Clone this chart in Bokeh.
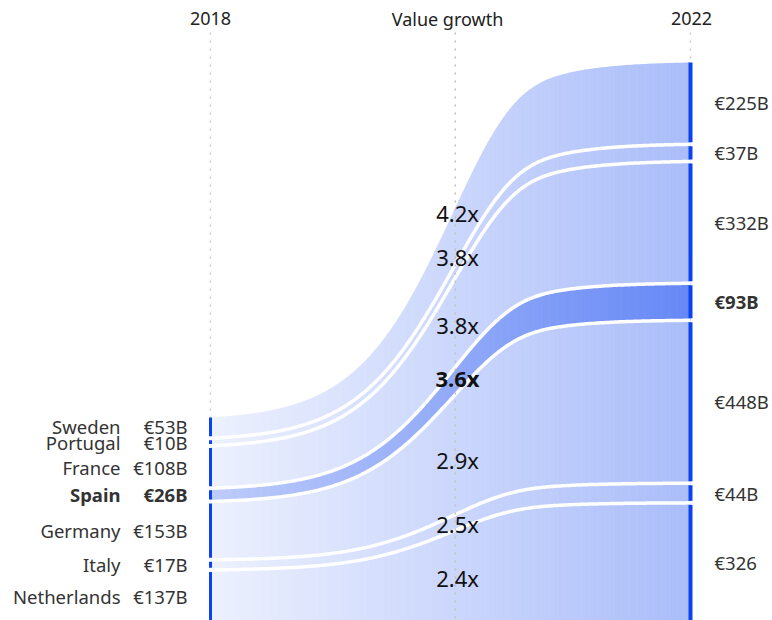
import numpy as np
from bokeh.plotting import figure
from bokeh.models import Range1d, ColumnDataSource
from bokeh.core.properties import value
from bokeh.embed import file_html
from bokeh.resources import INLINE

# ---------------- data ----------------
countries = ["Sweden", "Portugal", "France", "Spain", "Germany", "Italy", "Netherlands"]
values_2018 = [53, 10, 108, 26, 153, 17, 137]
values_2022 = [225, 37, 332, 93, 448, 44, 326]
labels_2018 = ["€53B", "€10B", "€108B", "€26B", "€153B", "€17B", "€137B"]
labels_2022 = ["€225B", "€37B", "€332B", "€93B", "€448B", "€44B", "€326"]
growth_labels = ["4.2x", "3.8x", "3.8x", "3.6x", "2.9x", "2.5x", "2.4x"]
highlight = "Spain"
column_titles = ["2018", "Value growth", "2022"]

# ---------------- layout / style ----------------
W, H = 772, 620
LEFT_PX = 210             # pixel x of the 2018 stack
PX_PER_S = 480.0          # px between the two stacks
PX_PER_B = 0.35465        # px per billion euro
GAP = 11.4                # gap between stacked bands (in value units)
FONT = value("Noto Sans")
BLUE = (12, 66, 240)
BAR_COLOR = "#0b43f0"
MID_S = 0.51
growth_nudge_px = [-18, -10, 6, 0, 7, 3, 2]   # label placement tweaks (px)


def sx(px):
    return (px - LEFT_PX) / PX_PER_S


def vy(py):
    return (H - py) / PX_PER_B


x_start, x_end = sx(0), sx(W)
y_start, y_end = 0.0, vy(0)


def tint(alpha):
    return "#%02x%02x%02x" % tuple(int(round(255 - alpha * (255 - c))) for c in BLUE)


def ease(s):
    s = np.asarray(s, dtype=float)
    k, c = 10.0, 0.475
    L = lambda u: 1.0 / (1.0 + np.exp(-k * (u - c)))
    logi = (L(s) - L(0.0)) / (L(1.0) - L(0.0))
    km, m = 9.0, 0.52
    G = lambda u: 1.0 - np.exp(-np.exp(km * (u - m)))
    gom = (G(s) - G(0.0)) / (G(1.0) - G(0.0))
    return 0.5 * logi + 0.5 * gom


def stack(vals):
    bottoms, tops = {}, {}
    y = 0.0
    for c, v in reversed(list(zip(countries, vals))):
        bottoms[c] = y
        tops[c] = y + v
        y += v + GAP
    return bottoms, tops


b18, t18 = stack(values_2018)
b22, t22 = stack(values_2022)


def curve(yl, yr, s):
    return yl + (yr - yl) * ease(s)


p = figure(width=W, height=H, x_range=Range1d(x_start, x_end),
           y_range=Range1d(y_start, y_end), output_backend="svg",
           toolbar_location=None, min_border=0,
           x_axis_location=None, y_axis_location=None)
p.grid.visible = False
p.outline_line_color = None
p.background_fill_color = "white"
p.border_fill_color = "white"

# dotted guide lines
dot_top = vy(32)
p.segment(x0=[0, 1], y0=[dot_top, dot_top],
          x1=[0, 1], y1=[t18[countries[0]], t22[countries[0]]],
          line_color="#c8c8c8", line_width=1.5, line_dash="2 6")

# gradient envelope of all bands
N = 180
edges = np.linspace(0, 1, N + 1)
eps = 0.6 / PX_PER_S
bottom_val = y_start - 50
top_l, top_r = t18[countries[0]], t22[countries[0]]
xs, ys, cols = [], [], []
for i in range(N):
    s0, s1 = edges[i], min(edges[i + 1] + eps, 1.0)
    xs.append([s0, s0, s1, s1])
    ys.append([bottom_val, float(curve(top_l, top_r, s0)), float(curve(top_l, top_r, s1)), bottom_val])
    sm = 0.5 * (s0 + s1)
    cols.append(tint(0.075 + 0.275 * sm))
p.patches(xs=xs, ys=ys, fill_color=cols, line_color=None)

# highlighted band (between gap centres)
hb_l = b18[highlight] - GAP / 2
ht_l = t18[highlight] + GAP / 2
hb_r = b22[highlight] - GAP / 2
ht_r = t22[highlight] + GAP / 2
xs, ys, cols = [], [], []
for i in range(N):
    s0, s1 = edges[i], min(edges[i + 1] + eps, 1.0)
    xs.append([s0, s0, s1, s1])
    ys.append([float(curve(hb_l, hb_r, s0)), float(curve(ht_l, ht_r, s0)),
               float(curve(ht_l, ht_r, s1)), float(curve(hb_l, hb_r, s1))])
    sm = 0.5 * (s0 + s1)
    cols.append(tint(0.27 + 0.36 * sm))
p.patches(xs=xs, ys=ys, fill_color=cols, line_color=None)

# white separator lines
ss = np.linspace(0, 1, 300)
lx, ly = [], []
for upper, lower in zip(countries[:-1], countries[1:]):
    yl = (t18[lower] + b18[upper]) / 2
    yr = (t22[lower] + b22[upper]) / 2
    lx.append(list(ss))
    ly.append(list(curve(yl, yr, ss)))
p.multi_line(xs=lx, ys=ly, line_color="white", line_width=3.5)

# middle dotted line
p.segment(x0=[MID_S], y0=[dot_top], x1=[MID_S], y1=[y_start],
          line_color="#c0c0c0", line_width=1.5, line_dash="2 6")

# stack bars
p.segment(x0=[0] * 7, y0=[b18[c] for c in countries], x1=[0] * 7, y1=[t18[c] for c in countries],
          line_color=BAR_COLOR, line_width=3)
p.segment(x0=[1] * 7, y0=[b22[c] for c in countries], x1=[1] * 7, y1=[t22[c] for c in countries],
          line_color=BAR_COLOR, line_width=4)

# ---------- texts ----------
c18 = [(b18[c] + t18[c]) / 2 for c in countries]
c22 = [(b22[c] + t22[c]) / 2 for c in countries]
styles = ["bold" if c == highlight else "normal" for c in countries]
label_s = 0.515
cmid = [float(curve(a, b, label_s)) - n / PX_PER_B for a, b, n in zip(c18, c22, growth_nudge_px)]

src = ColumnDataSource(dict(name=countries, l18=labels_2018, l22=labels_2022, g=growth_labels,
                            c18=c18, c22=c22, cmid=cmid, style=styles,
                            xname=[sx(120)] * 7,
                            xv18=[sx(187)] * 7,
                            xv22=[sx(714)] * 7,
                            xg=[sx(457)] * 7))

common = dict(source=src, text_font=FONT, text_baseline="middle", text_font_style="style")
p.text(x="xname", y="c18", text="name", text_align="right", text_font_size="18.5px",
       text_color="#333333", **common)
p.text(x="xv18", y="c18", text="l18", text_align="right", text_font_size="18.5px",
       text_color="#333333", **common)
p.text(x="xv22", y="c22", text="l22", text_align="left", text_font_size="18.5px",
       text_color="#333333", **common)
p.text(x="xg", y="cmid", text="g", text_align="center", text_font_size="22px",
       text_color="#111111", **common)

p.text(x=[sx(210), sx(447), sx(691)], y=[vy(18)] * 3, text=column_titles,
       text_align="center", text_baseline="middle", text_font=FONT,
       text_font_size="18px", text_color="#222222")

open("out.html", "w").write(file_html(p, INLINE))
